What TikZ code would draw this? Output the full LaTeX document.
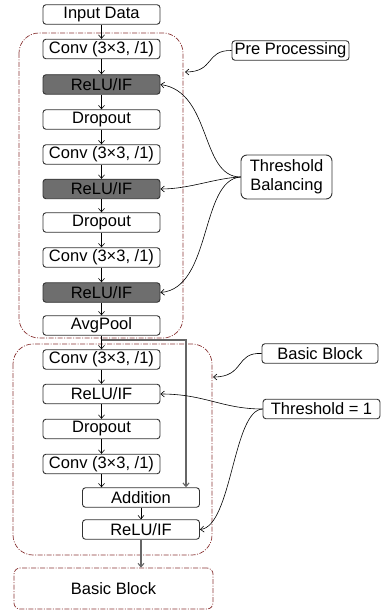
\documentclass[tikz,border=0pt]{standalone}
\usepackage{fontspec}
\setmainfont{Liberation Sans}
\usetikzlibrary{arrows.meta}
\definecolor{grpred}{HTML}{8A3535}
\definecolor{boxgray}{HTML}{6E6E6E}
\definecolor{edge}{HTML}{333333}
\begin{document}
\begin{tikzpicture}[x=1pt,y=-1pt,
  font=\fontsize{16.5}{19}\selectfont,
  blk/.style={draw=edge,line width=0.9pt,rounded corners=3pt,fill=white,
    minimum width=117pt,minimum height=19.5pt,inner sep=0pt,anchor=center},
  dark/.style={blk,fill=boxgray},
  lbl/.style={draw=edge,line width=0.9pt,rounded corners=3pt,fill=white,
    minimum height=19.5pt,inner sep=0pt,anchor=center},
  grp/.style={draw=grpred,line width=0.7pt,dash pattern=on 5pt off 1.5pt on 1pt off 1.5pt},
  arr/.style={draw=black,line width=0.6pt,-{Straight Barb[length=3.5pt,width=6pt]}},
  skipl/.style={draw=black!60,line width=1.1pt,-{Straight Barb[length=3.5pt,width=6pt]}}
  ]
\useasboundingbox (0,0) rectangle (381,612);

% group boxes
\draw[grp,rounded corners=20pt] (19,33) rectangle (183,338);
\draw[grp,rounded corners=20pt] (13,344) rectangle (212,555);
\node[grp,rounded corners=6pt,minimum width=199pt,minimum height=41pt,inner sep=0pt] (bb2) at (113.5,588.5) {Basic Block};

% main column
\node[blk] (in) at (101.5,14.5) {Input Data};
\node[blk] (c1) at (101.5,49) {Conv (3×3, /1)};
\node[dark] (r1) at (101.5,84.5) {ReLU/IF};
\node[blk] (d1) at (101.5,119.5) {Dropout};
\node[blk] (c2) at (101.5,154.5) {Conv (3×3, /1)};
\node[dark] (r2) at (101.5,189) {ReLU/IF};
\node[blk] (d2) at (101.5,222.5) {Dropout};
\node[blk] (c3) at (101.5,257.5) {Conv (3×3, /1)};
\node[dark] (r3) at (101.5,292.5) {ReLU/IF};
\node[blk] (ap) at (101.5,325.5) {AvgPool};
\node[blk] (c4) at (101.5,359.5) {Conv (3×3, /1)};
\node[blk] (r4) at (101.5,394) {ReLU/IF};
\node[blk] (d3) at (101.5,429) {Dropout};
\node[blk] (c5) at (101.5,464) {Conv (3×3, /1)};
\node[blk] (add) at (141,497.5) {Addition};
\node[blk] (r5) at (141,529.5) {ReLU/IF};

% labels
\node[lbl,minimum width=117pt] (pre) at (290.5,50.5) {Pre Processing};
\node[lbl,rounded corners=6pt,minimum width=91pt,minimum height=44pt,align=center] (tb) at (286.5,177) {Threshold\\Balancing};
\node[lbl,minimum width=116pt] (bbl) at (320,353.5) {Basic Block};
\node[lbl,minimum width=117pt] (t1) at (321.5,409) {Threshold = 1};

% vertical arrows
\foreach \a/\b in {in/c1,c1/r1,r1/d1,d1/c2,c2/r2,r2/d2,d2/c3,c3/r3,r3/ap,ap/c4,c4/r4,r4/d3,d3/c5}
  \draw[arr] (\a.south) -- (\b.north);
\draw[arr] (c5.south) -- (c5.south |- add.north);
\draw[arr] (add.south) -- (r5.north);
\draw[skipl] (r5.south) -- (bb2.north -| r5.south);

% skip connection
\coordinate (br) at (101.5,340);
\coordinate (sk) at (186,340);
\draw[skipl] (br) -- (sk) -- (sk |- add.north);

% annotation curves
\coordinate (preend) at (185,72);
\draw[arr] (pre.west) .. controls (205,50) and (215,72) .. (preend);
\draw[arr] (tb.west) .. controls (200,177) and (212,92) .. (r1.east);
\draw[arr] (tb.west) .. controls (215,178) and (190,189) .. (r2.east);
\draw[arr] (tb.west) .. controls (200,180) and (212,288) .. (r3.east);
\coordinate (bbend) at (213,377);
\draw[arr] (bbl.west) .. controls (235,352) and (245,377) .. (bbend);
\draw[arr] (t1.west) .. controls (222,409) and (205,394) .. (r4.east);
\draw[arr] (t1.west) .. controls (233,410) and (232,526) .. (r5.east);
\end{tikzpicture}
\end{document}
